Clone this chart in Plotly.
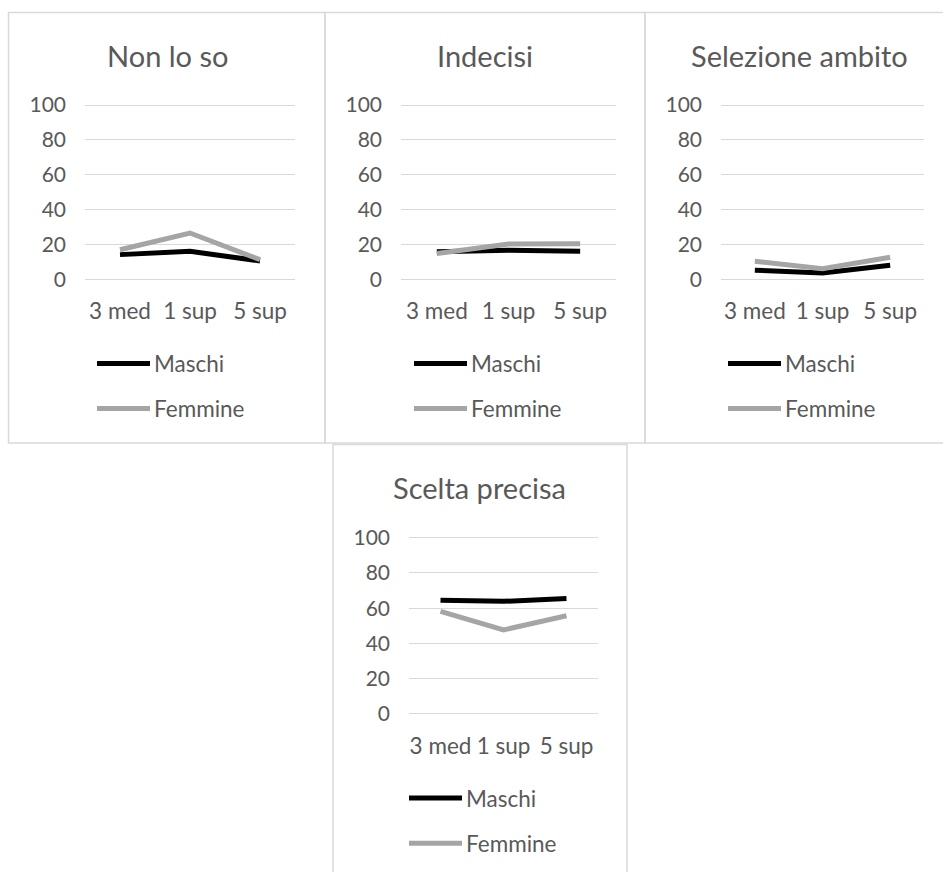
import plotly.graph_objects as go

# ---------------- data ----------------
categories = ["3 med", "1 sup", "5 sup"]
series_names = ["Maschi", "Femmine"]
panel_titles = ["Non lo so", "Indecisi", "Selezione ambito", "Scelta precisa"]
y_ticks = [0, 20, 40, 60, 80, 100]

maschi_non_lo_so = [14.2, 16.1, 10.6]
femmine_non_lo_so = [17.0, 26.6, 11.3]
maschi_indecisi = [15.8, 16.7, 16.2]
femmine_indecisi = [14.8, 20.3, 20.5]
maschi_selezione = [5.3, 3.7, 8.1]
femmine_selezione = [10.4, 6.1, 12.7]
maschi_scelta = [64.5, 63.9, 65.5]
femmine_scelta = [58.2, 47.7, 55.7]

maschi_all = [maschi_non_lo_so, maschi_indecisi, maschi_selezione, maschi_scelta]
femmine_all = [femmine_non_lo_so, femmine_indecisi, femmine_selezione, femmine_scelta]

# ---------------- style ----------------
W, H = 943, 872
FONT = "Lato"
TXT = "#595959"
GRID = "#D9D9D9"
COLORS = ["#000000", "#A5A5A5"]
LW = 5
YTICK = 21
SMALL = 22.5
BIG = 29

# panel geometry in pixels: box (x0,y0,x1,y1), plot x span, pixel y of 0 and 100,
# title centre x, legend start x
panels = [
    dict(box=(8.5, 13.5, 325, 443.5), px=(85, 295), y0=280, y100=106, tx=167, lx=97),
    dict(box=(325, 13.5, 645, 443.5), px=(401, 616), y0=280, y100=106, tx=485, lx=414),
    dict(box=(645, 13.5, 960, 443.5), px=(721, 924), y0=280, y100=106, tx=799, lx=728),
    dict(box=(333, 445, 627, 900), px=(409, 598), y0=714, y100=538, tx=480, lx=409),
]

# empirical vertical correction of the photographed page
Y_OFF, Y_SCALE = 11.0, 0.978


def fx(x):
    return x / W


def fy(y):
    return 1 - ((y - Y_OFF) / Y_SCALE) / H


fig = go.Figure()
shapes = []
annotations = []
lo, hi = -2, 102

for i, p in enumerate(panels):
    sfx = "" if i == 0 else str(i + 1)
    scale = (p["y0"] - p["y100"]) / 100.0
    ybot = p["y0"] - lo * scale
    ytop = p["y0"] - hi * scale
    for name, vals, col in zip(series_names, [maschi_all[i], femmine_all[i]], COLORS):
        fig.add_trace(go.Scatter(
            x=categories, y=vals, mode="lines", name=name,
            line=dict(color=col, width=LW), showlegend=False,
            xaxis="x" + sfx, yaxis="y" + sfx, hoverinfo="skip"))
    fig.layout["xaxis" + sfx] = dict(
        domain=[fx(p["px"][0]), fx(p["px"][1])], anchor="y" + sfx,
        type="category", range=[-0.5, 2.5], showgrid=False, showline=False,
        zeroline=False, ticks="", ticklabelstandoff=13,
        tickfont=dict(family=FONT, size=SMALL, color=TXT), fixedrange=True)
    fig.layout["yaxis" + sfx] = dict(
        domain=[fy(ybot), fy(ytop)], anchor="x" + sfx,
        range=[lo, hi], tickvals=y_ticks, showgrid=True, gridcolor=GRID,
        gridwidth=1.2, showline=False, zeroline=False, ticks="",
        ticklabelstandoff=18,
        tickfont=dict(family=FONT, size=YTICK, color=TXT), fixedrange=True)
    # border box
    x0, y0, x1, y1 = p["box"]
    shapes.append(dict(type="rect", xref="paper", yref="paper",
                       x0=fx(x0), x1=fx(x1), y0=fy(y1), y1=fy(y0),
                       line=dict(color=GRID, width=1.5), layer="below"))
    # title
    annotations.append(dict(text=panel_titles[i], xref="paper", yref="paper",
                            x=fx(p["tx"]), y=fy(p["y0"] - 224 * (p["y0"] - p["y100"]) / 174),
                            xanchor="center", yanchor="middle", showarrow=False,
                            font=dict(family=FONT, size=BIG, color=TXT)))
    # legend
    for k, (name, col) in enumerate(zip(series_names, COLORS)):
        ly = p["y0"] + 84 + 45 * k
        shapes.append(dict(type="line", xref="paper", yref="paper",
                           x0=fx(p["lx"]), x1=fx(p["lx"] + 53), y0=fy(ly), y1=fy(ly),
                           line=dict(color=col, width=LW)))
        annotations.append(dict(text=name, xref="paper", yref="paper",
                                x=fx(p["lx"] + 55), y=fy(ly), xanchor="left",
                                yanchor="middle", showarrow=False,
                                font=dict(family=FONT, size=SMALL, color=TXT)))

fig.update_layout(
    width=W, height=H, margin=dict(l=0, r=0, t=0, b=0),
    paper_bgcolor="white", plot_bgcolor="white",
    shapes=shapes, annotations=annotations, showlegend=False,
    font=dict(family=FONT, color=TXT))

pin_js = (
    "document.documentElement.style.margin='0';"
    "document.documentElement.style.overflow='hidden';"
    "document.body.style.margin='0';"
    "document.body.style.overflow='hidden';"
    "var g=document.getElementsByClassName('plotly-graph-div')[0];"
    "g.style.position='fixed';g.style.top='0px';g.style.left='0px';"
)
fig.write_html("out.html", config={"displayModeBar": False}, post_script=pin_js)
